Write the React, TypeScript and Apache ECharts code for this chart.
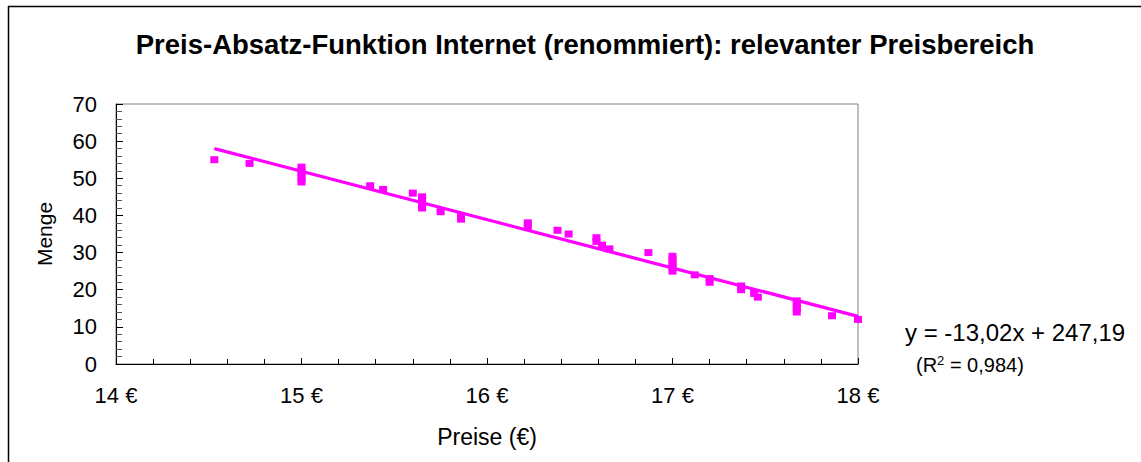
import React, { useEffect, useRef } from "react";
import * as echarts from "echarts";

const titleText = "Preis-Absatz-Funktion Internet (renommiert): relevanter Preisbereich";
const xAxisName = "Preise (€)";
const yAxisName = "Menge";
const prices = [
  14.53, 14.72, 15.0, 15.0, 15.0, 15.0, 15.0, 15.37, 15.44, 15.6, 15.65, 15.65, 15.65, 15.65,
  15.75, 15.86, 15.86, 16.22, 16.22, 16.38, 16.44, 16.59, 16.59, 16.62, 16.66, 16.87,
  17.0, 17.0, 17.0, 17.0, 17.0, 17.12, 17.2, 17.2, 17.37, 17.37, 17.44, 17.46,
  17.67, 17.67, 17.67, 17.67, 17.86, 18.0,
];
const quantities = [
  55, 54, 53, 52, 51, 50, 49, 48, 47, 46, 45, 44, 43, 42, 41, 40, 39, 38, 37, 36, 35, 34, 33, 32,
  31, 30, 29, 28, 27, 26, 25, 24, 23, 22, 21, 20, 19, 18, 17, 16, 15, 14, 13, 12,
];
const trendSlope = -13.02;
const trendIntercept = 247.19;
const equationText = "y = -13,02x + 247,19";
const r2Value = "0,984";

const FONT = "'Liberation Sans', Arial, sans-serif";
const MAGENTA = "#FF00FF";

export default function App() {
  const ref = useRef<HTMLDivElement>(null);
  useEffect(() => {
    if (!ref.current) return;
    const chart = echarts.init(ref.current, undefined, { renderer: "svg" });
    const points = prices.map((p, i) => [p, quantities[i]]);
    const xMin = Math.min(...prices);
    const xMax = Math.max(...prices);
    const trend = [
      [xMin, trendSlope * xMin + trendIntercept],
      [xMax, trendSlope * xMax + trendIntercept],
    ];
    chart.setOption({
      animation: false,
      backgroundColor: "#fff",
      textStyle: { fontFamily: FONT },
      title: {
        text: titleText,
        left: 580,
        top: 25,
        textAlign: "center",
        textStyle: { fontFamily: FONT, fontWeight: "bold", fontSize: 27.5, color: "#000" },
      },
      grid: { left: 116, top: 104, width: 742, height: 260, show: true, borderColor: "#808080", borderWidth: 1, backgroundColor: "transparent" },
      xAxis: {
        type: "value",
        min: 14,
        max: 18,
        interval: 1,
        name: xAxisName,
        nameLocation: "middle",
        nameGap: 61,
        nameTextStyle: { fontFamily: FONT, fontSize: 23, color: "#000" },
        axisLine: { show: true, lineStyle: { color: "#000", width: 1 } },
        axisTick: { show: true, inside: true, length: 6, lineStyle: { color: "#000" } },
        minorTick: { show: true, splitNumber: 5, length: 5, lineStyle: { color: "#000" } },
        splitLine: { show: false },
        axisLabel: { formatter: (v: number) => `${v} €`, fontFamily: FONT, fontSize: 22, color: "#000", margin: 20 },
      },
      yAxis: {
        type: "value",
        min: 0,
        max: 70,
        interval: 10,
        name: yAxisName,
        nameLocation: "middle",
        nameGap: 61,
        nameTextStyle: { fontFamily: FONT, fontSize: 21, color: "#000" },
        axisLine: { show: true, lineStyle: { color: "#000", width: 1 } },
        axisTick: { show: true, inside: true, length: 7, lineStyle: { color: "#000" } },
        minorTick: { show: true, splitNumber: 5, length: 6, lineStyle: { color: "#555" } },
        splitLine: { show: false },
        axisLabel: { fontFamily: FONT, fontSize: 22, color: "#000", margin: 19 },
      },
      series: [
        {
          type: "scatter",
          data: points,
          symbol: "rect",
          symbolSize: [8, 7],
          itemStyle: { color: MAGENTA, opacity: 1 },
          z: 3,
        },
        {
          type: "line",
          data: trend,
          showSymbol: false,
          symbol: "none",
          lineStyle: { color: MAGENTA, width: 3.3 },
          z: 4,
        },
      ],
      graphic: [
        { type: "line", shape: { x1: 8.5, y1: 6, x2: 8.5, y2: 462 }, style: { stroke: "#000", lineWidth: 1.5 } },
        { type: "line", shape: { x1: 8, y1: 6.5, x2: 1141, y2: 6.5 }, style: { stroke: "#000", lineWidth: 1.5 } },
        {
          type: "text",
          left: 905,
          top: 320,
          style: { text: equationText, fontFamily: FONT, fontSize: 24, fill: "#000" },
        },
        {
          type: "text",
          left: 916,
          top: 354,
          style: {
            text: `(R{sup|2} = ${r2Value})`,
            fontFamily: FONT,
            fontSize: 20,
            fill: "#000",
            rich: { sup: { fontSize: 13, verticalAlign: "top", padding: [0, 0, 9, 0], fontFamily: FONT, fill: "#000" } },
          },
        },
      ],
    });
    return () => chart.dispose();
  }, []);
  return <div ref={ref} style={{ position: "absolute", left: 0, top: 0, width: 1141, height: 462 }} />;
}
